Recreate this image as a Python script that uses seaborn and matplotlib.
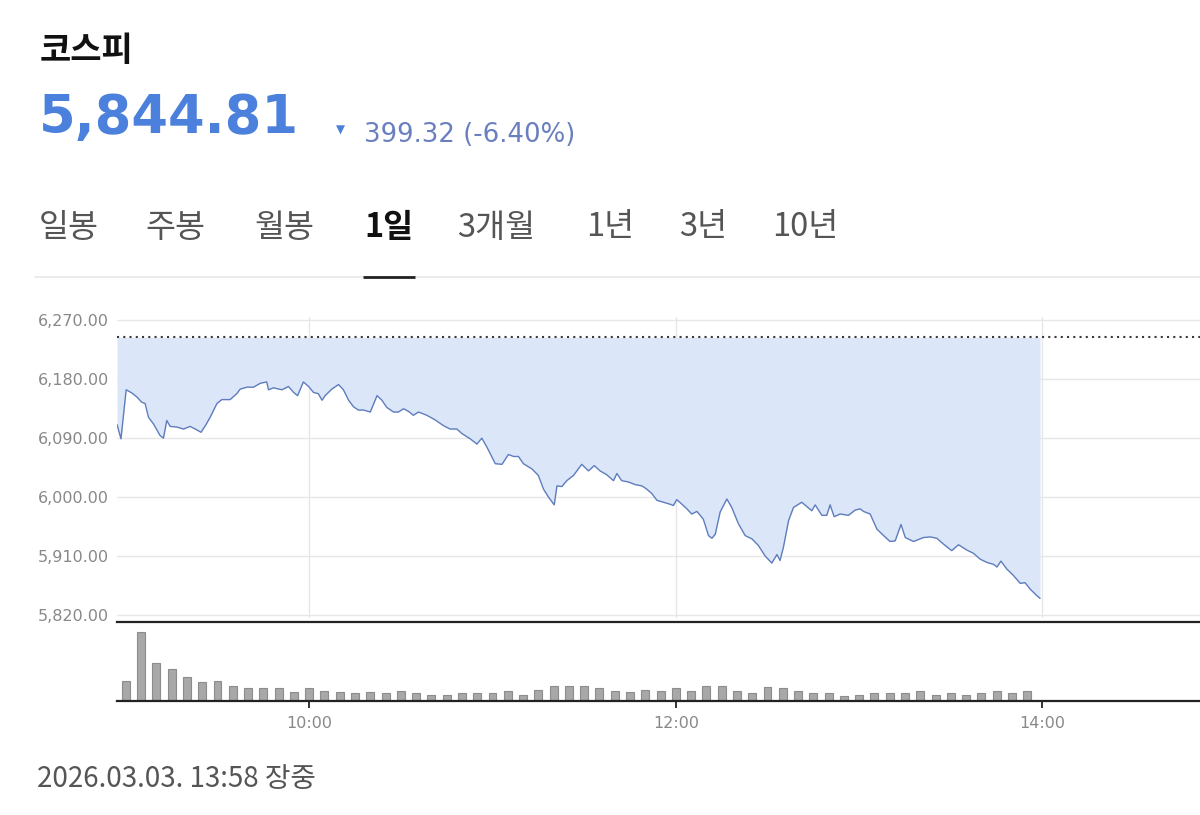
import matplotlib
matplotlib.use("Agg")
import matplotlib.pyplot as plt
from matplotlib.lines import Line2D
import seaborn as sns
import numpy as np
import pandas as pd

# ---------------- data ----------------
index_name = "코스피"
current_value = 5844.81
prev_close = 6244.13
timestamp_text = "2026.03.03. 13:58 장중"
tab_labels = ["일봉", "주봉", "월봉", "1일", "3개월", "1년", "3년", "10년"]
selected_tab = "1일"

# minutes after 09:00
price_minutes = [-2.9, -1.6, 0.1, 2.0, 3.6, 5.2, 6.3, 7.4, 9.0, 11.2, 12.3, 13.4, 14.5, 16.7,
                 18.9, 21.0, 22.7, 24.6, 26.0, 27.6, 29.8, 31.4, 34.1, 36.3, 37.4, 39.6, 41.8,
                 44.0, 46.1, 46.7, 48.3, 51.1, 53.2, 54.9, 56.2, 58.1, 59.8, 61.4, 63.0, 64.2,
                 65.2, 67.4, 69.6, 71.2, 72.9, 74.5, 76.1, 77.8, 80.0, 82.2, 83.8, 85.4, 87.6,
                 89.2, 90.9, 92.5, 94.1, 95.8, 98.5, 101.2, 104.0, 106.1, 108.3, 110.0, 112.7,
                 114.9, 116.5, 118.2, 120.9, 123.1, 125.2, 126.9, 128.5, 130.1, 132.9, 135.0,
                 136.7, 138.3, 140.2, 141.1, 142.7, 144.3, 146.5, 149.2, 151.4, 153.3, 155.2,
                 157.4, 159.6, 160.7, 162.3, 164.5, 166.7, 168.9, 170.5, 172.2, 173.8, 176.0,
                 178.1, 179.2, 180.3, 182.0, 183.6, 185.2, 186.9, 189.0, 190.7, 191.8, 192.9,
                 194.5, 196.7, 198.3, 200.5, 202.7, 204.9, 207.0, 209.2, 211.4, 213.1, 214.1,
                 215.2, 216.9, 218.5, 221.2, 224.5, 225.6, 227.8, 229.4, 230.5, 231.8, 233.8,
                 236.5, 238.7, 240.3, 241.4, 243.6, 245.8, 248.0, 250.1, 251.8, 253.7, 255.1,
                 257.8, 261.0, 263.2, 265.4, 267.6, 270.3, 272.5, 275.2, 277.4, 279.6, 281.8,
                 284.0, 285.1, 286.4, 288.3, 290.5, 292.7, 294.3, 296.0, 298.2, 299.2]
price_values = [6111, 6089, 6164, 6159, 6153, 6145, 6143, 6122, 6112, 6094, 6090, 6117, 6108, 6107,
                6104, 6108, 6104, 6099, 6109, 6122, 6143, 6149, 6149, 6158, 6165, 6168, 6168,
                6174, 6176, 6164, 6167, 6164, 6169, 6160, 6155, 6176, 6169, 6160, 6158, 6148,
                6155, 6165, 6172, 6164, 6148, 6138, 6133, 6133, 6130, 6155, 6148, 6137, 6130,
                6130, 6135, 6131, 6125, 6130, 6125, 6118, 6109, 6104, 6104, 6097, 6089,
                6081, 6090, 6076, 6051, 6050, 6065, 6062, 6062, 6051, 6043, 6033,
                6012, 6000, 5988, 6017, 6016, 6025, 6033, 6050, 6040, 6048, 6040,
                6034, 6025, 6036, 6025, 6023, 6019, 6017, 6012, 6005, 5995, 5992,
                5989, 5987, 5996, 5989, 5982, 5974, 5978, 5966, 5941, 5937, 5943,
                5977, 5997, 5984, 5959, 5941, 5936, 5926, 5910, 5899, 5912, 5903,
                5923, 5964, 5984, 5992, 5979, 5988, 5972, 5972, 5988, 5970, 5974,
                5972, 5980, 5982, 5978, 5974, 5951, 5941, 5932, 5933, 5958, 5938,
                5932, 5938, 5939, 5937, 5928, 5918, 5927, 5919, 5914, 5905, 5900,
                5897, 5893, 5902, 5890, 5880, 5868, 5869, 5859, 5849, 5845]

# 5-minute volume bars (relative units), minutes after 09:00
volume_minutes = list(range(0, 300, 5))
volume_values = [21.4, 72.2, 39.6, 33.3, 25.6, 19.6, 21.4, 15.8, 13.3, 13.3, 14.0, 9.8, 13.3, 10.5,
                 9.8, 8.1, 9.8, 8.1, 10.5, 8.1, 6.3, 6.3, 8.1, 8.1, 8.1, 10.5, 6.3, 11.9, 15.8,
                 15.8, 15.8, 13.3, 10.5, 9.8, 11.9, 10.7, 13.6, 10.0, 16.1, 16.1, 10.0, 8.2,
                 14.3, 13.6, 10.7, 8.2, 8.2, 5.7, 6.4, 8.2, 8.2, 8.2, 10.0, 6.4, 8.2, 6.4, 8.2,
                 10.0, 8.2, 10.7]

y_ticks = [5820, 5910, 6000, 6090, 6180, 6270]
x_tick_minutes = [60, 180, 300]
x_tick_labels = ["10:00", "12:00", "14:00"]

# ---------------- styling ----------------
sns.set_theme(style="white")
plt.rcParams["font.family"] = ["DejaVu Sans"]
KR = ["Noto Sans CJK KR", "DejaVu Sans"]

W, H = 1200, 815
fig = plt.figure(figsize=(W / 100, H / 100), dpi=100)
fig.patch.set_facecolor("white")


def fx(px):
    return px / W


def fy(py):
    return 1 - py / H


price_df = pd.DataFrame({"minute": price_minutes, "price": price_values})
vol_df = pd.DataFrame({"minute": volume_minutes, "volume": volume_values})

# axes geometry (pixels)
left_px = 117
x_left = -2.9
px_per_min = 3.0554
x_right = x_left + (W - left_px) / px_per_min

# price panel
ax = fig.add_axes([fx(left_px), fy(618.0), fx(W - left_px), (618.0 - 317.2) / H])
ax.fill_between(price_df["minute"], price_df["price"], prev_close,
                color="#dbe6f8", lw=0, zorder=1)
sns.lineplot(data=price_df, x="minute", y="price", ax=ax, color="#5f7dbd",
             lw=1.0, zorder=3)
ax.axhline(prev_close, color="#3a3a3a", lw=1.5, ls=(0, (1, 2.0)), zorder=4)
ax.set_xlim(x_left, x_right)
ax.set_ylim(5815, 6275)
ax.set_yticks(y_ticks)
ax.set_yticklabels([f"{v:,.2f}" for v in y_ticks], fontsize=11.5, color="#888888")
ax.set_xticks(x_tick_minutes)
ax.set_xticklabels([])
ax.tick_params(axis="both", length=0)
ax.tick_params(axis="y", pad=6)
ax.grid(True, color="#e7e7e7", lw=1)
ax.set_axisbelow(True)
ax.set_xlabel("")
ax.set_ylabel("")
for s in ax.spines.values():
    s.set_visible(False)

# volume panel
axv = fig.add_axes([fx(left_px), fy(701), fx(W - left_px), 79 / H])
sns.barplot(data=vol_df, x="minute", y="volume", ax=axv, native_scale=True,
            width=0.52, color="#a8a8a8", saturation=1, errorbar=None,
            edgecolor="#8c8c8c", linewidth=0.8)
axv.set_xlim(x_left, x_right)
axv.set_ylim(0, 83)
axv.set_yticks([])
axv.set_xticks(x_tick_minutes)
axv.set_xticklabels(x_tick_labels, fontsize=11.5, color="#888888")
axv.tick_params(axis="x", direction="out", length=5, width=1.4, color="#333333",
                pad=6, bottom=True)
axv.set_xlabel("")
axv.set_ylabel("")
axv.grid(False)
for side in ["left", "right"]:
    axv.spines[side].set_visible(False)
for side in ["top", "bottom"]:
    axv.spines[side].set_visible(True)
    axv.spines[side].set_color("#222222")
    axv.spines[side].set_linewidth(1.6)

# ---------------- header ----------------
fig.text(fx(40), fy(60.5), index_name, family=KR, fontsize=24.5, fontweight="bold",
         color="#111111", va="baseline", ha="left")
fig.text(fx(39), fy(133.3), f"{current_value:,.2f}", fontsize=38, fontweight="bold",
         color="#4b80dc", va="baseline", ha="left")
change = prev_close - current_value
pct = -change / prev_close * 100
fig.text(fx(340), fy(129.7), "▼", fontsize=8.5, color="#4b80dc", va="center", ha="center")
fig.text(fx(363.5), fy(141.7), f"{change:.2f} ({pct:.2f}%)", fontsize=18.7,
         color="#6a7fbf", va="baseline", ha="left")

tab_x = [40, 146.7, 255, 365, 458.3, 586.7, 680, 773.3]
for lbl, xp in zip(tab_labels, tab_x):
    sel = lbl == selected_tab
    fig.text(fx(xp - 1), fy(236.5), lbl, family=KR, fontsize=23.5,
             fontweight="bold" if sel else "normal",
             color="#111111" if sel else "#555555", va="baseline", ha="left")

fig.add_artist(Line2D([fx(35), fx(W)], [fy(276.8), fy(276.8)], color="#e8e8e8", lw=1.2,
                      transform=fig.transFigure))
fig.add_artist(Line2D([fx(363), fx(415)], [fy(277.3), fy(277.3)], color="#222222", lw=2,
                      transform=fig.transFigure, solid_capstyle="butt"))

fig.text(fx(37), fy(786.7), timestamp_text, family=KR, fontsize=20, color="#555555",
         va="baseline", ha="left")

fig.savefig("out.png", dpi=100, facecolor="white")
